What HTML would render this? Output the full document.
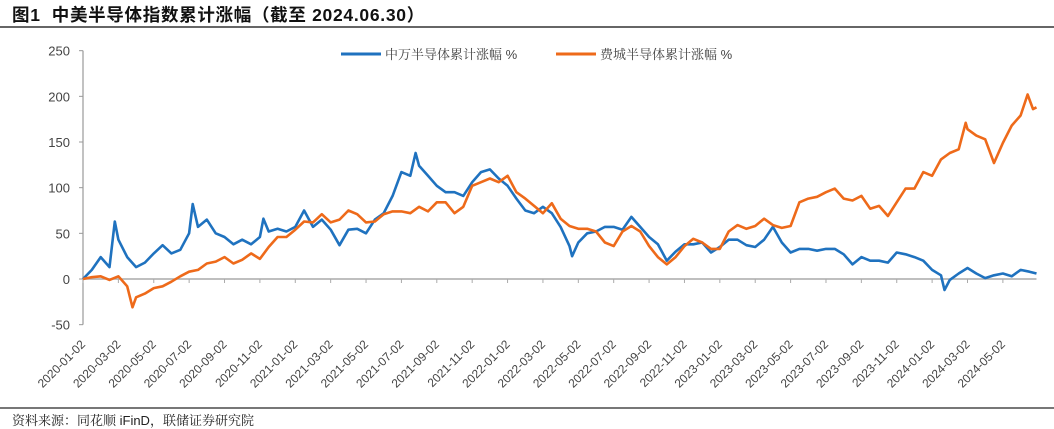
<!DOCTYPE html>
<html><head><meta charset="utf-8">
<style>
html,body{margin:0;padding:0;background:#fff;}
body{width:1054px;height:428px;position:relative;overflow:hidden;font-family:"Liberation Sans","Noto Sans CJK SC",sans-serif;}
#title{position:absolute;left:12px;top:2px;font-size:17.5px;font-weight:bold;color:#111;letter-spacing:0.7px;font-family:"Liberation Sans","Noto Sans CJK SC",sans-serif;}
#tline{position:absolute;left:0;top:26px;width:1054px;height:2px;background:#666;}
#bline{position:absolute;left:0;top:407px;width:1054px;height:2px;background:#777;}
#src{position:absolute;left:12px;top:410px;font-size:13px;color:#222;font-family:"Liberation Sans","Noto Serif CJK SC",serif;}
svg{position:absolute;left:0;top:0;}
</style></head><body>
<div id="title">图1&nbsp;&nbsp;中美半导体指数累计涨幅（截至 2024.06.30）</div>
<div id="tline"></div>
<svg id="chart" width="1054" height="428"></svg>
<div id="bline"></div>
<div id="src">资料来源：同花顺 iFinD，联储证券研究院</div>
<script>
const yTicks=[250,200,150,100,50,0,-50];
const xLabels=["2020-01-02","2020-03-02","2020-05-02","2020-07-02","2020-09-02","2020-11-02","2021-01-02","2021-03-02","2021-05-02","2021-07-02","2021-09-02","2021-11-02","2022-01-02","2022-03-02","2022-05-02","2022-07-02","2022-09-02","2022-11-02","2023-01-02","2023-03-02","2023-05-02","2023-07-02","2023-09-02","2023-11-02","2024-01-02","2024-03-02","2024-05-02"];
const swMonths=[0,0.5,1,1.5,1.8,2,2.5,3,3.5,4,4.5,5,5.5,6,6.2,6.5,7,7.5,8,8.5,9,9.5,10,10.2,10.5,11,11.5,12,12.5,13,13.5,14,14.5,15,15.5,16,16.5,17,17.5,18,18.5,18.8,19,19.5,20,20.5,21,21.5,22,22.5,23,23.5,24,24.5,25,25.5,26,26.5,27,27.5,27.65,28,28.5,29,29.5,30,30.5,31,31.5,32,32.5,33,33.5,34,34.5,35,35.5,36,36.5,37,37.5,38,38.5,39,39.5,40,40.5,41,41.5,42,42.5,43,43.5,44,44.5,45,45.5,46,46.5,47,47.5,48,48.5,48.7,49,49.5,50,50.5,51,51.5,52,52.5,53,53.5,53.9];
const swValues=[0,10,24,13,63,43,24,13,18,28,37,28,32,50,82,57,65,50,46,38,43,38,46,66,52,55,52,57,75,57,65,54,37,54,55,50,65,72,91,117,113,138,124,113,102,95,95,91,106,117,120,110,102,88,75,72,79,72,57,36,25,40,50,52,57,57,54,68,57,46,38,20,30,38,38,40,29,35,43,43,37,35,43,57,40,29,33,33,31,33,33,27,16,24,20,20,18,29,27,24,20,10,4,-12,-1,6,12,6,1,4,6,3,10,8,6];
const soxMonths=[0,0.5,1,1.5,2,2.5,2.8,3,3.5,4,4.5,5,5.5,6,6.5,7,7.5,8,8.5,9,9.5,10,10.5,11,11.5,12,12.5,13,13.5,14,14.5,15,15.5,16,16.5,17,17.5,18,18.5,19,19.5,20,20.5,21,21.5,22,22.5,23,23.5,24,24.5,25,25.5,26,26.5,27,27.5,28,28.5,29,29.5,30,30.5,31,31.5,32,32.5,33,33.5,34,34.5,35,35.5,36,36.5,37,37.5,38,38.5,39,39.5,40,40.5,41,41.5,42,42.5,43,43.5,44,44.5,45,45.5,46,46.5,47,47.5,48,48.5,49,49.5,49.9,50,50.5,51,51.5,52,52.5,53,53.4,53.7,53.9];
const soxValues=[0,2,3,-1,3,-8,-31,-20,-16,-10,-8,-3,3,8,10,17,19,24,17,21,28,22,35,46,46,54,63,62,71,62,65,75,71,62,63,71,74,74,72,79,74,84,84,72,79,102,106,110,106,113,95,88,80,72,83,66,58,55,55,52,40,36,52,58,52,36,24,16,24,36,44,40,33,33,52,59,55,58,66,59,56,58,84,88,90,95,99,88,86,91,77,80,69,84,99,99,117,113,131,138,142,171,164,157,153,127,149,168,179,202,186,188];

const NS='http://www.w3.org/2000/svg';
const svg=document.getElementById('chart');
const X0=83, PXM=17.69, Y0=279, PXU=0.9133;
function xs(m){return X0+m*PXM;}
function ys(v){return Y0-v*PXU;}
function mk(tag,attrs){const e=document.createElementNS(NS,tag);for(const k in attrs)e.setAttribute(k,attrs[k]);svg.appendChild(e);return e;}

const ya=mk('line',{x1:X0,y1:ys(250),x2:X0,y2:ys(-50),stroke:'#999','stroke-width':1.2});


yTicks.forEach(v=>{
  const t=mk('line',{x1:X0-4,y1:ys(v),x2:X0,y2:ys(v),stroke:'#999','stroke-width':1});
  
  
  const l=mk('text',{x:X0-13,y:ys(v)+5,'text-anchor':'end','font-size':13,fill:'#444','font-family':'Liberation Sans, sans-serif'});
  l.textContent=v;
  
  
});
const xa=mk('line',{x1:X0,y1:ys(0),x2:xs(53.9),y2:ys(0),stroke:'#aaa','stroke-width':1.5});


xLabels.forEach((s,i)=>{
  const x=xs(i*2);
  const t=mk('line',{x1:x,y1:ys(0),x2:x,y2:ys(0)+4,stroke:'#aaa','stroke-width':1});
  
  
  const lx=x+3, ly=345;
  const l=mk('text',{x:lx,y:ly,'text-anchor':'end','font-size':12,fill:'#444','font-family':'Liberation Sans, sans-serif',transform:`rotate(-45 ${lx} ${ly})`});
  l.textContent=s;
  
  
});
function series(ms,vs,color,name){
  const d=ms.map((m,i)=>(i?'L':'M')+xs(m).toFixed(1)+','+ys(vs[i]).toFixed(1)).join(' ');
  const p=mk('path',{d:d,fill:'none',stroke:color,'stroke-width':2.6,'stroke-linejoin':'round'});
  
  
}
series(swMonths,swValues,'#1f72bf','sw-semiconductor-line');
series(soxMonths,soxValues,'#ee6a1a','sox-semiconductor-line');
const l1=mk('line',{x1:341,y1:54,x2:381,y2:54,stroke:'#1f72bf','stroke-width':3});


const t1=mk('text',{x:385,y:59,'font-size':13,fill:'#444','font-family':'Liberation Sans, Noto Serif CJK SC, serif'});
t1.textContent='中万半导体累计涨幅 %';


const l2=mk('line',{x1:556,y1:54,x2:596,y2:54,stroke:'#ee6a1a','stroke-width':3});


const t2=mk('text',{x:600,y:59,'font-size':13,fill:'#444','font-family':'Liberation Sans, Noto Serif CJK SC, serif'});
t2.textContent='费城半导体累计涨幅 %';


</script>
</body></html>
